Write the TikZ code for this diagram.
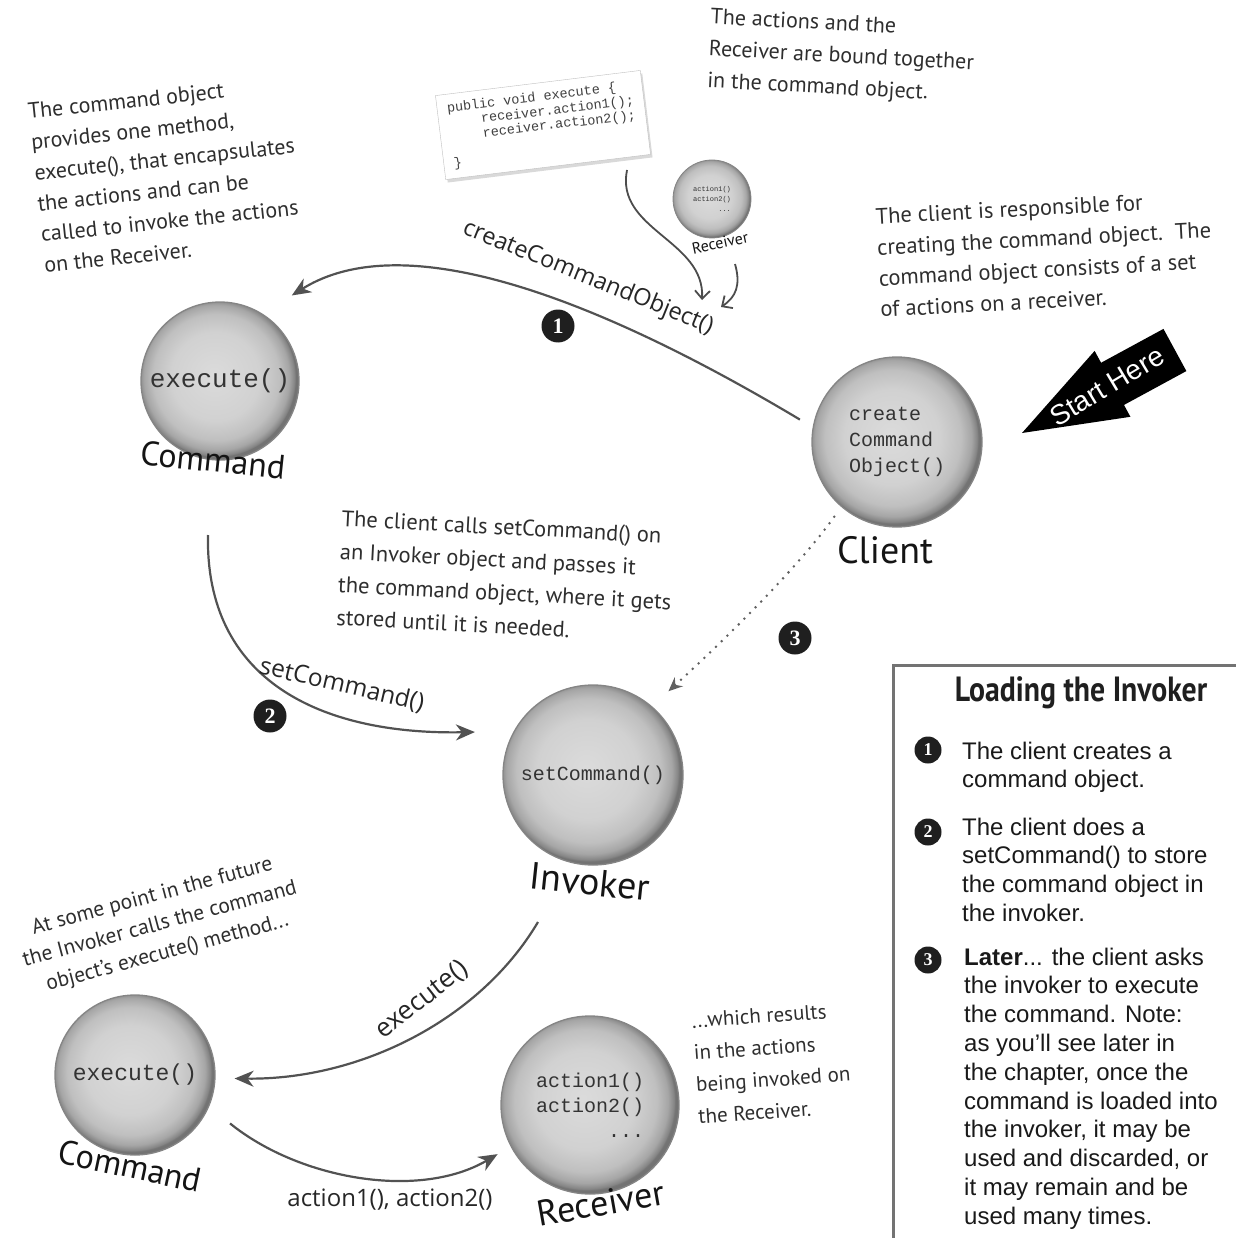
\documentclass[tikz,border=0pt]{standalone}
\usepackage{fontspec}
\usepackage{graphicx}
\usetikzlibrary{arrows.meta,shadows}
\setmainfont{Liberation Sans}
\newfontfamily\handf{PT Sans}
\newfontfamily\monof{Liberation Mono}
\newfontfamily\lblf{Open Sans}
\newfontfamily\numf{Liberation Serif}
\pgfdeclareradialshading{ballshade}{\pgfpoint{-2bp}{2bp}}{color(0bp)=(black!14); color(14bp)=(black!18); color(20bp)=(black!25); color(23bp)=(black!35); color(24.6bp)=(black!48); color(25bp)=(black!55); color(50bp)=(black!55)}
\begin{document}
\begin{tikzpicture}[x=1pt,y=-1pt,
  ballnode/.style={circle, shade, shading=ballshade, draw=black!48, line width=1.3pt, inner sep=0pt, text=black!80},
  bignm/.style={font=\handf\fontsize{38}{38}\selectfont, inner sep=0pt, text=black!92},
  handnote/.style={font=\handf\fontsize{21}{32}\selectfont, align=left, inner sep=0pt, text=black!82},
  elabel/.style={font=\lblf\fontsize{24}{24}\selectfont, inner sep=0pt, text=black!85},
  flowarrow/.style={draw=black!68, line width=2.2pt, -{Stealth[length=19pt,width=16pt,inset=6pt]}},
  smallarrow/.style={draw=black!70, line width=1.8pt, -{Straight Barb[length=8pt,width=15pt]}},
  dotarrow/.style={draw=black!62, line width=2.8pt, dash pattern=on 0pt off 8pt, line cap=round, -{Stealth[length=14pt,width=12pt]}},
  numdot/.style={circle, fill=black!88, text=white, font=\numf\bfseries\fontsize{22}{22}\selectfont, minimum size=33pt, inner sep=0pt},
  legdot/.style={circle, fill=black!88, text=white, font=\numf\bfseries\fontsize{18}{18}\selectfont, minimum size=27pt, inner sep=0pt},
  legtext/.style={font=\fontsize{24}{28.8}\selectfont, align=left, inner sep=0pt, text=black!90, anchor=north west}
]
\useasboundingbox (0,0) rectangle (1235,1238);

% ---------- balls ----------
\node[ballnode, minimum size=158pt, font=\monof\fontsize{26}{26}\selectfont] (cmdA) at (220,381) {execute()};
\node[bignm, font=\handf\fontsize{34}{34}\selectfont, rotate=-6] (cmdAname) at (213,460) {Command};

\node[ballnode, minimum size=170pt, font=\monof\fontsize{20}{26}\selectfont, align=left] (client) at (897,442) {create\\Command\\Object()};
\node[bignm] (clientname) at (885,550) {Client};

\node[ballnode, minimum size=180pt, font=\monof\fontsize{20}{20}\selectfont] (inv) at (593,775) {setCommand()};
\node[bignm, rotate=-6] (invname) at (590,882) {Invoker};

\node[ballnode, minimum size=160pt, font=\monof\fontsize{23}{23}\selectfont] (cmdB) at (135,1075) {execute()};
\node[bignm, font=\handf\fontsize{34}{34}\selectfont, rotate=-12] (cmdBname) at (130,1166) {Command};

\node[ballnode, minimum size=178pt, font=\monof\fontsize{20}{25}\selectfont, align=left] (rec) at (590,1105) {action1()\\action2()\\\phantom{action}...};
\node[bignm, font=\handf\fontsize{36}{36}\selectfont, rotate=10] (recname) at (601,1203) {Receiver};

\node[ballnode, minimum size=78pt, line width=0.8pt, font=\monof\fontsize{7}{10}\selectfont, align=left] (recS) at (712,199) {action1()\\action2()\\\phantom{action}...};
\node[bignm, font=\handf\fontsize{16}{16}\selectfont, rotate=12] (recSname) at (720,243) {Receiver};

% ---------- code box ----------
\node[draw=black!25, fill=white, drop shadow={opacity=0.3, shadow xshift=2pt, shadow yshift=-3pt}, rotate=7,
  font=\monof\fontsize{13.5}{15}\selectfont, align=left, inner xsep=10pt, inner ysep=8pt, text=black!75] (code) at (543,125)
  {public void execute \{\\\ \ \ \ receiver.action1();\\\ \ \ \ receiver.action2();\\[11pt]\}};

% ---------- start here ----------
\begin{scope}[shift={(1022,433)}, rotate=28.5]
  \fill[black] (0,0) -- (103,-37.5) -- (103,-24) -- (174,-24) -- (174,24) -- (103,24) -- (103,37.5) -- cycle;
\end{scope}
\node[text=white, rotate=31, font=\fontsize{28}{28}\selectfont, inner sep=0pt] (start) at (1107,386) {Start Here};

% ---------- connectors ----------
\draw[flowarrow] ([shift={(167:14pt)}]client.167) .. controls (650,330) and (420,215) .. ([shift={(50:32pt)}]cmdA.50);
\node[elabel, font=\lblf\fontsize{23.5}{23.5}\selectfont, rotate=-22] (ccoLbl) at (588,278) {createCommandObject()};
\node[numdot] (n1) at (558,326) {1};

\draw[smallarrow] ([shift={(84pt,-45pt)}]code.center) .. controls (615,230) and (705,240) .. ([shift={(114pt,-22pt)}]ccoLbl.center);
\draw[smallarrow] ([shift={(15pt,-21pt)}]recSname.center) .. controls (741,285) and (736,297) .. ([shift={(133pt,-29pt)}]ccoLbl.center);

\draw[flowarrow] ([shift={(-5pt,-75pt)}]cmdAname.center) .. controls (205,680) and (320,735) .. ([shift={(160:35pt)}]inv.160);
\node[elabel, font=\lblf\fontsize{24.5}{24.5}\selectfont, rotate=-13] (scLbl) at (342,685) {setCommand()};
\node[numdot] (n2) at (270,716) {2};

\draw[dotarrow] ([shift={(230:12pt)}]client.230) .. controls (800,565) and (730,635) .. ([shift={(48:22pt)}]inv.48);
\node[numdot] (n3) at (795,638) {3};

\draw[flowarrow] ([shift={(-52pt,-40pt)}]invname.center) .. controls (480,1020) and (360,1080) .. ([shift={(-2:19pt)}]cmdB.-2);
\node[elabel, font=\lblf\fontsize{26}{26}\selectfont, rotate=38] (exLbl) at (422,1000) {execute()};

\draw[flowarrow] ([shift={(-27:26pt)}]cmdB.-27) .. controls (300,1180) and (420,1200) .. ([shift={(208:15pt)}]rec.208);
\node[elabel, font=\lblf\fontsize{24}{24}\selectfont] (aLbl) at (390,1200) {action1(), action2()};

% ---------- hand notes ----------
\node[handnote, font=\handf\fontsize{22}{31}\selectfont, rotate=6, anchor=north west] (noteA) at (27,103)
  {The command object\\provides one method,\\execute(), that encapsulates\\the actions and can be\\called to invoke the actions\\on the Receiver.};
\node[handnote, font=\handf\fontsize{22}{32}\selectfont, rotate=-3, anchor=north west] (noteB) at (711,8)
  {The actions and the\\Receiver are bound together\\in the command object.};
\node[handnote, font=\handf\fontsize{22.5}{31}\selectfont, rotate=3, anchor=north west] (noteC) at (875,208)
  {The client is responsible for\\creating the command object.\ \ The\\command object consists of a set\\of actions on a receiver.};
\node[handnote, font=\handf\fontsize{22.5}{33}\selectfont, rotate=-3, anchor=north west] (noteD) at (342,510)
  {The client calls setCommand() on\\an Invoker object and passes it\\the command object, where it gets\\stored until it is needed.};
\node[handnote, font=\handf\fontsize{21.5}{29}\selectfont, rotate=15, align=center] (noteE) at (160,925)
  {At some point in the future\\the Invoker calls the command\\object’s execute() method...};
\node[handnote, rotate=4, anchor=north west] (noteF) at (691,1013)
  {...which results\\in the actions\\being invoked on\\the Receiver.};

% ---------- legend ----------
\draw[draw=black!55, line width=3pt] (893,1250) -- (893,665) -- (1240,665);
\node[font=\handf\bfseries\fontsize{35}{35}\selectfont, text=black!88, inner sep=0pt] (ltitle) at (1081,693) {\scalebox{0.85}[1]{Loading the Invoker}};
\node[legdot] (l1) at (928,750) {1};
\node[legdot] (l2) at (928,832) {2};
\node[legdot] (l3) at (928,960) {3};
\node[legtext] (t1) at (962,741.5) {The client creates a\\command object.};
\node[legtext] (t2) at (962,817.5) {The client does a\\setCommand() to store\\the command object in\\the invoker.};
\node[legtext] (t3) at (964,947.5) {\textbf{Later}... the client asks\\the invoker to execute\\the command. Note:\\as you’ll see later in\\the chapter, once the\\command is loaded into\\the invoker, it may be\\used and discarded, or\\it may remain and be\\used many times.};
\end{tikzpicture}
\end{document}
